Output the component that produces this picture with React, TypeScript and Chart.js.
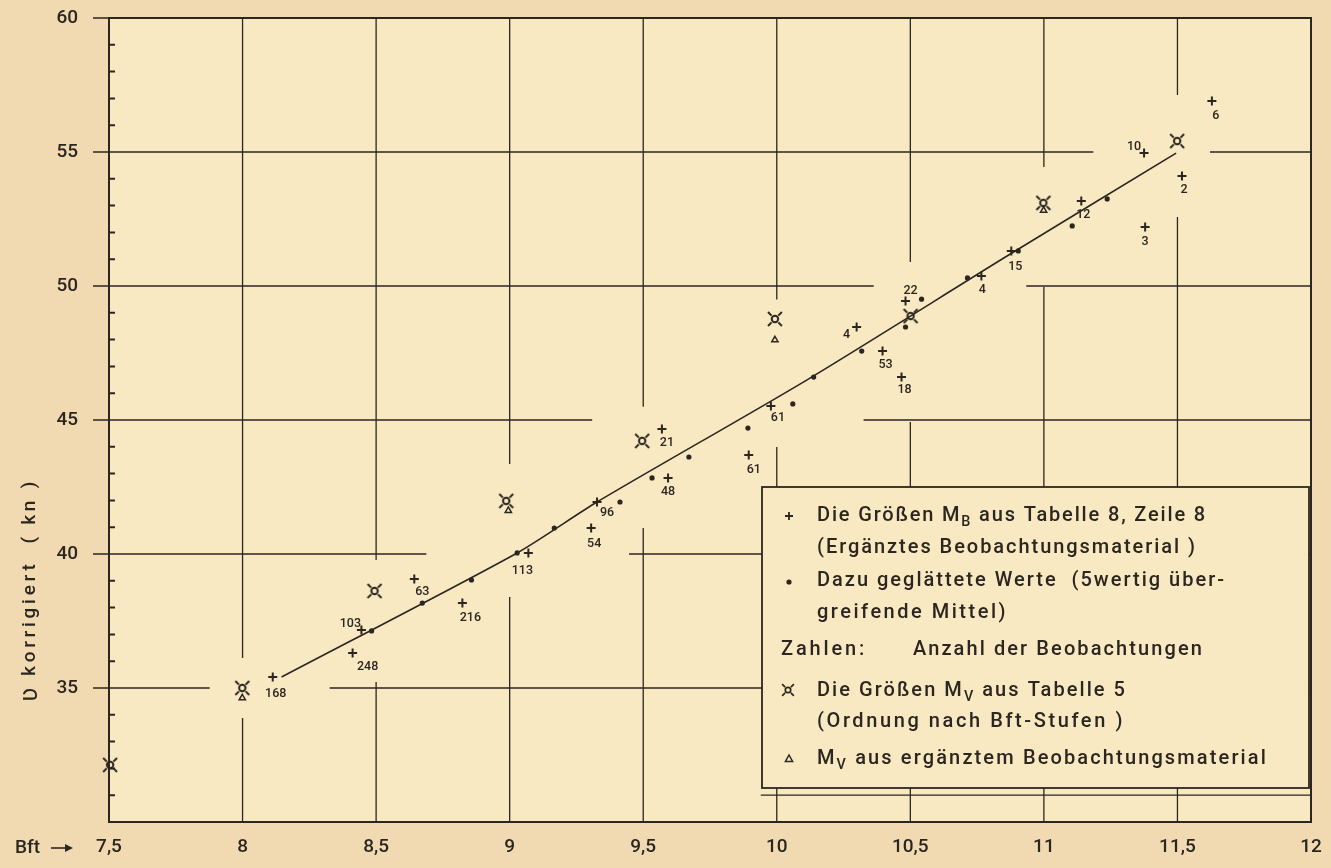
import React, { useEffect, useRef } from "react";
import { Chart, registerables } from "chart.js";

Chart.register(...registerables);

const INK = "#2b2620";
const PAPER = "#f1dab2";
const PLOT_BG = "#f8e9c3";
const FONT = "Roboto, 'DejaVu Sans', sans-serif";

// ---- axis ticks ----
const xTickValues = [7.5, 8, 8.5, 9, 9.5, 10, 10.5, 11, 11.5, 12];
const xTickLabels = ["7,5", "8", "8,5", "9", "9,5", "10", "10,5", "11", "11,5", "12"];
const yTickValues = [35, 40, 45, 50, 55, 60];
const yTickLabels = ["35", "40", "45", "50", "55", "60"];

// ---- M_B aus Tabelle 8, Zeile 8 (crosses) ----
const mbX = [8.113, 8.412, 8.445, 8.643, 8.823, 9.07, 9.305, 9.327, 9.57, 9.593, 9.895, 9.978, 10.299, 10.396, 10.467, 10.482, 10.766, 10.878, 11.14, 11.375, 11.379, 11.517, 11.629];
const mbY = [35.41, 36.31, 37.16, 39.07, 38.17, 40.04, 40.97, 41.94, 44.66, 42.84, 43.69, 45.52, 48.47, 47.57, 46.6, 49.44, 50.37, 51.31, 53.17, 54.96, 52.2, 54.1, 56.9];
const mbCount = ["168", "248", "103", "63", "216", "113", "54", "96", "21", "48", "61", "61", "4", "53", "18", "22", "4", "15", "12", "10", "3", "2", "6"];
// label placement (pixel offset of the count label from its cross)
const mbLabelOffsets: [number, number][] = [
  [3, 17], [15, 14], [-11, -6], [8, 13], [8, 15], [-6, 18], [3, 16], [10, 11], [5, 14], [0, 14],
  [5, 15], [7, 12], [-10, 8], [3, 14], [3, 13], [5, -10], [1, 14], [4, 16], [2, 14], [-10, -6],
  [0, 15], [2, 14], [4, 15],
];

// ---- geglättete Werte (dots) ----
const smX = [8.483, 8.673, 8.857, 9.028, 9.167, 9.413, 9.533, 9.671, 9.892, 10.06, 10.138, 10.318, 10.482, 10.542, 10.714, 10.904, 11.106, 11.237];
const smY = [37.13, 38.17, 39.03, 40.04, 40.97, 41.94, 42.84, 43.62, 44.7, 45.6, 46.6, 47.57, 48.47, 49.51, 50.3, 51.31, 52.24, 53.25];

// ---- fitted curve ----
const fitX = [8.146, 9.028, 9.327, 10.112, 10.856, 11.495];
const fitY = [35.41, 40.04, 41.94, 46.49, 51.08, 54.96];

// ---- M_V aus Tabelle 5 ----
const mvX = [7.504, 7.999, 8.494, 8.987, 9.496, 9.993, 10.501, 10.998, 11.499];
const mvY = [32.13, 35.0, 38.62, 41.98, 44.22, 48.77, 48.88, 53.1, 55.41];

// ---- M_V aus ergänztem Beobachtungsmaterial ----
const mveX = [7.999, 8.995, 9.993, 10.999];
const mveY = [34.63, 41.62, 47.99, 52.82];

// ---- broken grid lines (data units) ----
const gridH: [number, number, number][] = [
  [55, 7.5, 11.185], [55, 11.622, 12],
  [50, 7.5, 10.363], [50, 10.934, 12],
  [45, 7.5, 9.309], [45, 10.325, 12],
  [40, 7.5, 8.688], [40, 9.447, 12],
  [35, 7.5, 7.877], [35, 8.326, 12],
  [31, 9.94, 12],
];
const gridV: [number, number, number][] = [
  [8, 30, 33.88], [8, 36.12, 60],
  [8.5, 30, 35.22], [8.5, 39.78, 60],
  [9, 30, 38.4], [9, 43.36, 60],
  [9.5, 30, 40.97], [9.5, 45.49, 60],
  [10, 30, 43.99], [10, 49.5, 60],
  [10.5, 30, 44.93], [10.5, 50.9, 60],
  [11, 30, 49.96], [11, 54.44, 60],
  [11.5, 30, 52.57], [11.5, 57.13, 60],
];

function drawMv(g: CanvasRenderingContext2D, x: number, y: number, k: number) {
  g.save();
  g.strokeStyle = INK;
  g.lineWidth = 2 * k;
  g.beginPath();
  g.arc(x, y, 3.2 * k, 0, Math.PI * 2);
  g.stroke();
  g.beginPath();
  for (const a of [45, 135, 225, 315]) {
    const r = (a * Math.PI) / 180;
    g.moveTo(x + Math.cos(r) * 4.8 * k, y + Math.sin(r) * 4.8 * k);
    g.lineTo(x + Math.cos(r) * 9.8 * k, y + Math.sin(r) * 9.8 * k);
  }
  g.stroke();
  g.restore();
}

function makeMvImage(): HTMLCanvasElement {
  const c = document.createElement("canvas");
  c.width = 24;
  c.height = 24;
  const g = c.getContext("2d")!;
  drawMv(g, 12, 12, 1);
  return c;
}

function drawCross(g: CanvasRenderingContext2D, x: number, y: number, r: number, lw: number) {
  g.save();
  g.strokeStyle = INK;
  g.lineWidth = lw;
  g.beginPath();
  g.moveTo(x - r, y);
  g.lineTo(x + r, y);
  g.moveTo(x, y - r);
  g.lineTo(x, y + r);
  g.stroke();
  g.restore();
}

function drawTri(g: CanvasRenderingContext2D, x: number, y: number, r: number) {
  g.save();
  g.strokeStyle = INK;
  g.lineWidth = 1.5;
  g.beginPath();
  g.moveTo(x, y - r);
  g.lineTo(x + r * 0.9, y + r * 0.6);
  g.lineTo(x - r * 0.9, y + r * 0.6);
  g.closePath();
  g.stroke();
  g.restore();
}

type Part = [string, boolean?];
function drawFitted(g: CanvasRenderingContext2D, parts: Part[], x: number, y: number, endX: number, size: number, weight = 500) {
  const anyG = g as any;
  anyG.letterSpacing = "0px";
  let w = 0;
  let n = 0;
  const widths: number[] = [];
  for (const [t, sub] of parts) {
    g.font = `${weight} ${sub ? size * 0.72 : size}px ${FONT}`;
    const m = g.measureText(t).width;
    widths.push(m);
    w += m;
    n += Array.from(t).length;
  }
  const ls = n > 1 ? Math.max(0, (endX - x - w) / n) : 0;
  anyG.letterSpacing = `${ls}px`;
  let cx = x;
  parts.forEach(([t, sub], i) => {
    g.font = `${weight} ${sub ? size * 0.72 : size}px ${FONT}`;
    g.fillText(t, cx, sub ? y + size * 0.3 : y);
    cx += widths[i] + ls * Array.from(t).length;
  });
  anyG.letterSpacing = "0px";
}

const paperPlugin = {
  id: "paper",
  beforeDraw(chart: any) {
    const g = chart.ctx as CanvasRenderingContext2D;
    const a = chart.chartArea;
    g.save();
    g.fillStyle = PAPER;
    g.fillRect(0, 0, chart.width, chart.height);
    g.fillStyle = PLOT_BG;
    g.fillRect(a.left, a.top, a.right - a.left, a.bottom - a.top);
    g.restore();
  },
  beforeDatasetsDraw(chart: any) {
    const g = chart.ctx as CanvasRenderingContext2D;
    const xs = chart.scales.x;
    const ys = chart.scales.y;
    const a = chart.chartArea;
    g.save();
    g.strokeStyle = INK;
    g.lineWidth = 1.3;
    g.beginPath();
    for (const [v, x1, x2] of gridH) {
      const py = ys.getPixelForValue(v);
      g.moveTo(xs.getPixelForValue(x1), py);
      g.lineTo(xs.getPixelForValue(x2), py);
    }
    for (const [v, y1, y2] of gridV) {
      const px = xs.getPixelForValue(v);
      g.moveTo(px, ys.getPixelForValue(y1));
      g.lineTo(px, ys.getPixelForValue(y2));
    }
    for (const v of yTickValues) {
      const py = ys.getPixelForValue(v);
      g.moveTo(a.left - 16, py);
      g.lineTo(a.left, py);
    }
    g.stroke();
    g.lineWidth = 2;
    g.beginPath();
    for (let v = 31; v < 60; v++) {
      if (v % 5 === 0) continue;
      const py = ys.getPixelForValue(v);
      g.moveTo(a.left, py);
      g.lineTo(a.left + 6, py);
    }
    g.stroke();
    g.lineWidth = 2;
    g.strokeRect(a.left, a.top, a.right - a.left, a.bottom - a.top);
    g.restore();
  },
  afterDatasetsDraw(chart: any) {
    const g = chart.ctx as CanvasRenderingContext2D;
    const a = chart.chartArea;
    g.save();
    g.fillStyle = INK;
    g.font = `500 12.5px ${FONT}`;
    g.textAlign = "center";
    g.textBaseline = "middle";
    const meta = chart.getDatasetMeta(2);
    meta.data.forEach((el: any, i: number) => {
      const [dx, dy] = mbLabelOffsets[i];
      g.fillText(mbCount[i], el.x + dx, el.y + dy);
    });

    // legend box
    const bx1 = a.left + 653;
    const by1 = a.top + 469;
    const bx2 = a.right - 2;
    const by2 = a.bottom - 34;
    g.fillStyle = PLOT_BG;
    g.fillRect(bx1, by1, bx2 - bx1, by2 - by1);
    g.strokeStyle = INK;
    g.lineWidth = 1.8;
    g.strokeRect(bx1, by1, bx2 - bx1, by2 - by1);

    g.fillStyle = INK;
    g.textAlign = "left";
    g.textBaseline = "middle";
    const ox = bx1 - 762;
    const oy = by1 - 487;
    const S = 20;
    drawCross(g, 789 + ox, 516 + oy, 4, 1.8);
    drawFitted(g, [["Die Größen M"], ["B", true], [" aus Tabelle 8, Zeile 8"]], 817 + ox, 516 + oy, 1207 + ox, S);
    drawFitted(g, [["(Ergänztes Beobachtungsmaterial )"]], 817 + ox, 548 + oy, 1197 + ox, S);
    g.beginPath();
    g.arc(789 + ox, 582 + oy, 2.6, 0, Math.PI * 2);
    g.fill();
    drawFitted(g, [["Dazu geglättete Werte  (5wertig über-"]], 817 + ox, 581 + oy, 1226 + ox, S);
    drawFitted(g, [["greifende Mittel)"]], 817 + ox, 613 + oy, 1008 + ox, S);
    drawFitted(g, [["Zahlen:"]], 781 + ox, 650 + oy, 867 + ox, S);
    drawFitted(g, [["Anzahl der Beobachtungen"]], 913 + ox, 650 + oy, 1204 + ox, S);
    drawMv(g, 788 + ox, 690 + oy, 0.85);
    drawFitted(g, [["Die Größen M"], ["V", true], [" aus Tabelle 5"]], 817 + ox, 691 + oy, 1127 + ox, S);
    drawFitted(g, [["(Ordnung nach Bft-Stufen )"]], 817 + ox, 722 + oy, 1125 + ox, S);
    drawTri(g, 789 + ox, 759 + oy, 4);
    drawFitted(g, [["M"], ["V", true], [" aus ergänztem Beobachtungsmaterial"]], 817 + ox, 759 + oy, 1268 + ox, S);

    // "Bft →" label
    g.font = `500 19px ${FONT}`;
    g.fillText("Bft", 15, 848);
    g.lineWidth = 1.6;
    g.beginPath();
    g.moveTo(51, 848);
    g.lineTo(71, 848);
    g.stroke();
    g.beginPath();
    g.moveTo(73, 848);
    g.lineTo(65, 844);
    g.lineTo(65, 852);
    g.closePath();
    g.fill();

    // y axis title
    g.save();
    g.translate(30, 590);
    g.rotate(-Math.PI / 2);
    g.font = `500 24px 'DejaVu Sans', ${FONT}`;
    g.fillText("ʋ", -112, 1);
    drawFitted(g, [["korrigiert  ( kn )"]], -86, 0, 112, 19);
    g.restore();
    g.restore();
  },
};

export default function App() {
  const ref = useRef<HTMLCanvasElement>(null);
  useEffect(() => {
    const canvas = ref.current!;
    const mvImg = makeMvImage();
    const pts = (xs: number[], ys: number[]) => xs.map((x, i) => ({ x, y: ys[i] }));
    const chart = new Chart(canvas, {
      type: "scatter",
      data: {
        datasets: [
          {
            label: "Ausgleich",
            data: pts(fitX, fitY),
            showLine: true,
            borderColor: INK,
            borderWidth: 1.6,
            pointRadius: 0,
            tension: 0.25,
            clip: false as any,
          },
          {
            label: "geglättet",
            data: pts(smX, smY),
            pointStyle: "circle",
            pointRadius: 2.6,
            backgroundColor: INK,
            borderWidth: 0,
            clip: false as any,
          },
          {
            label: "M_B",
            data: pts(mbX, mbY),
            pointStyle: "cross",
            pointRadius: 4.5,
            borderColor: INK,
            borderWidth: 2,
            clip: false as any,
          },
          {
            label: "M_V",
            data: pts(mvX, mvY),
            pointStyle: mvImg as any,
            pointRadius: 10,
            clip: false as any,
          },
          {
            label: "M_V ergänzt",
            data: pts(mveX, mveY),
            pointStyle: "triangle",
            pointRadius: 3.6,
            borderColor: INK,
            borderWidth: 1.5,
            backgroundColor: "rgba(0,0,0,0)",
            clip: false as any,
          },
        ],
      },
      options: {
        responsive: false,
        devicePixelRatio: 1,
        animation: false,
        events: [],
        layout: { padding: { top: 18, right: 20, left: 0, bottom: 0 } },
        plugins: { legend: { display: false }, tooltip: { enabled: false }, title: { display: false } },
        scales: {
          x: {
            type: "linear",
            min: 7.5,
            max: 12,
            afterFit: (s: any) => {
              s.height = 46;
              s.paddingLeft = 0;
              s.paddingRight = 0;
            },
            grid: { display: false, drawTicks: false, tickLength: 0 },
            border: { display: false },
            ticks: {
              stepSize: 0.5,
              autoSkip: false,
              maxRotation: 0,
              padding: 14,
              color: INK,
              font: { family: FONT, size: 19, weight: "500" as any },
              callback: (v: any) => {
                const i = xTickValues.findIndex((t) => Math.abs(t - Number(v)) < 1e-6);
                return i >= 0 ? xTickLabels[i] : "";
              },
            },
          },
          y: {
            type: "linear",
            min: 30,
            max: 60,
            afterFit: (s: any) => {
              s.width = 109;
              s.paddingTop = 0;
              s.paddingBottom = 0;
            },
            grid: { display: false, drawTicks: false, tickLength: 0 },
            border: { display: false },
            ticks: {
              stepSize: 5,
              autoSkip: false,
              padding: 31,
              color: INK,
              font: { family: FONT, size: 19, weight: "500" as any },
              callback: (v: any) => {
                const i = yTickValues.findIndex((t) => Math.abs(t - Number(v)) < 1e-6);
                return i >= 0 ? yTickLabels[i] : "";
              },
            },
          },
        },
      },
      plugins: [paperPlugin as any],
    });
    return () => chart.destroy();
  }, []);
  return (
    <div style={{ position: "absolute", left: 0, top: 0, width: 1331, height: 868, background: PAPER }}>
      <canvas ref={ref} width={1331} height={868} style={{ display: "block", width: 1331, height: 868 }} />
    </div>
  );
}
